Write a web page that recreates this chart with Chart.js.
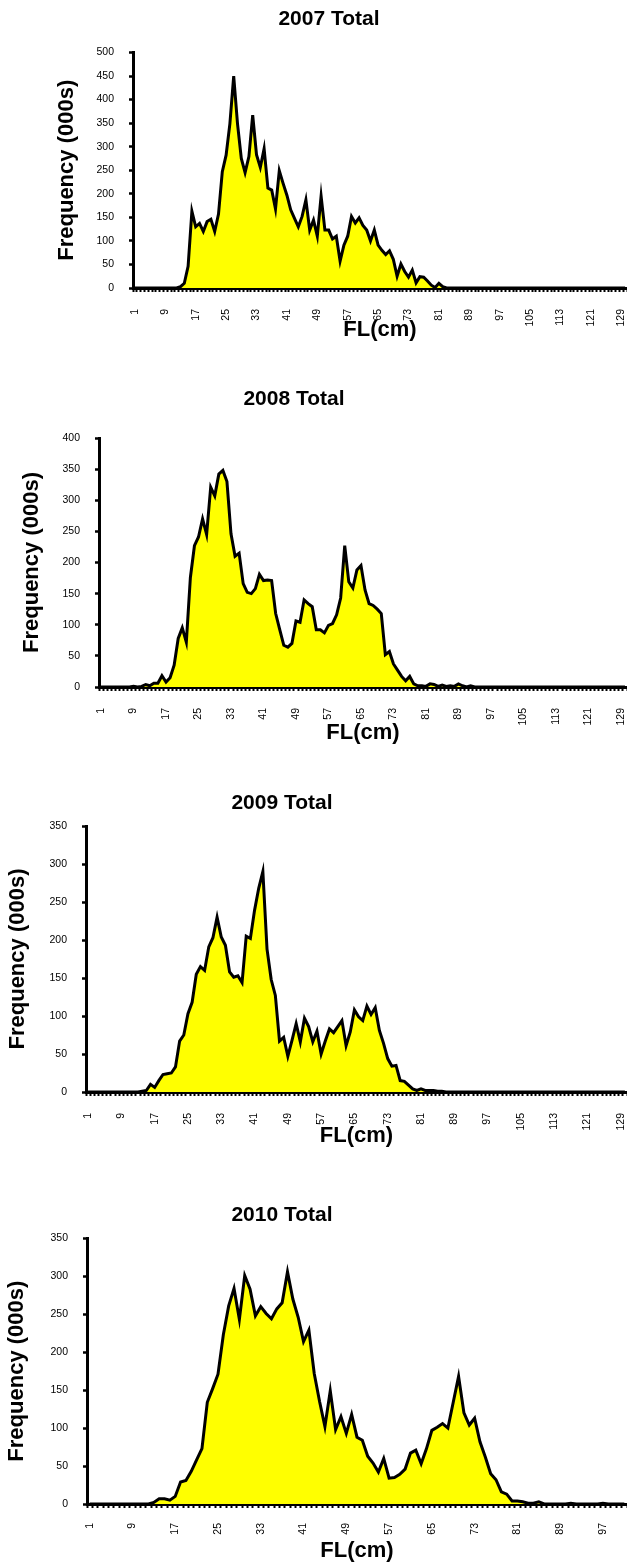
<!DOCTYPE html>
<html>
<head>
<meta charset="utf-8">
<script src="https://cdn.jsdelivr.net/npm/chart.js@4.4.1/dist/chart.umd.min.js"></script>
<style>
html,body{margin:0;padding:0;background:#fff;}
body{width:627px;height:1566px;position:relative;overflow:hidden;}
canvas{position:absolute;}
</style>
</head>
<body>
<canvas id="c2007"></canvas>
<canvas id="c2008"></canvas>
<canvas id="c2009"></canvas>
<canvas id="c2010"></canvas>
<script>
// ===== length classes (FL, cm) =====
var flLen=[1,2,3,4,5,6,7,8,9,10,11,12,13,14,15,16,17,18,19,20,21,22,23,24,25,26,27,28,29,30,
31,32,33,34,35,36,37,38,39,40,41,42,43,44,45,46,47,48,49,50,51,52,53,54,55,56,57,58,59,60,
61,62,63,64,65,66,67,68,69,70,71,72,73,74,75,76,77,78,79,80,81,82,83,84,85,86,87,88,89,90,
91,92,93,94,95,96,97,98,99,100,101,102,103,104,105,106,107,108,109,110,111,112,113,114,115,116,117,118,119,120,
121,122,123,124,125,126,127,128,129,130];
var flLen2010=[1,2,3,4,5,6,7,8,9,10,11,12,13,14,15,16,17,18,19,20,21,22,23,24,25,26,27,28,29,30,
31,32,33,34,35,36,37,38,39,40,41,42,43,44,45,46,47,48,49,50,51,52,53,54,55,56,57,58,59,60,
61,62,63,64,65,66,67,68,69,70,71,72,73,74,75,76,77,78,79,80,81,82,83,84,85,86,87,88,89,90,
91,92,93,94,95,96,97,98,99,100,101];
var shownTicks=[1,9,17,25,33,41,49,57,65,73,81,89,97,105,113,121,129];

// frequency (000s) per length class
var freq2007=[0,0,0,0,0,0,0,0,0,0, 0,0,3,10,46,163,130,137,120,141,
146,120,157,247,282,349,450,349,275,245, 279,367,283,256,296,212,208,168,249,222,
197,166,148,130,152,187,123,144,110,195, 123,123,104,110,57,91,110,152,138,149,
133,123,100,123,91,80,71,79,61,25, 51,35,23,38,11,24,23,15,6,1,
10,3,0,0,0,0,0,0,0,0, 0,0,0,0,0,0,0,0,0,0, 0,0,0,0,0,0,0,0,0,0,
0,0,0,0,0,0,0,0,0,0, 0,0,0,0,0,0,0,0,0,0];
var freq2008=[0,0,0,0,0,0,0,0,1,0, 1,4,2,6,6,18,8,15,35,78,
95,72,176,227,241,270,245,321,307,342, 348,330,246,210,215,166,152,150,158,181,
171,172,171,118,92,67,64,70,106,104, 140,134,129,92,92,87,99,102,116,143,
227,169,159,188,195,156,134,131,125,118, 52,57,37,27,17,10,17,5,2,2,
1,5,4,1,3,1,2,1,5,2, 0,2,0,0,0,0,0,0,0,0, 0,0,0,0,0,0,0,0,0,0,
0,0,0,0,0,0,0,0,0,0, 0,0,0,0,0,0,0,0,0,0];
var freq2009=[0,0,0,0,0,0,0,0,0,0, 0,0,0,1,2,10,6,15,23,24,
25,33,67,75,103,118,155,165,160,191, 203,230,204,193,158,151,153,144,205,202,
239,268,290,188,148,127,67,72,47,68, 90,66,97,86,66,80,50,67,83,78,
86,94,61,79,108,99,94,113,102,111, 81,64,44,34,35,15,14,9,4,2,
4,2,2,2,1,1,0,0,0,0, 0,0,0,0,0,0,0,0,0,0, 0,0,0,0,0,0,0,0,0,0,
0,0,0,0,0,0,0,0,0,0, 0,0,0,0,0,0,0,0,0,0];
var freq2010=[0,0,0,0,0,0,0,0,0,0, 0,0,2,7,7,5,10,29,31,43,
58,73,134,152,171,223,261,284,243,301, 283,248,260,251,244,257,265,306,270,246,
214,229,172,135,102,149,98,115,93,118, 88,84,63,54,42,60,34,35,39,46,
67,71,53,73,97,101,106,100,134,168, 120,104,113,82,62,40,32,16,13,4,
4,3,1,1,3,0,0,0,0,0, 1,0,0,0,0,0,1,0,0,0, 0];

var FONT='"Liberation Sans", Arial, Helvetica, sans-serif';

// canvas boxes and paddings (page px)
var boxes={
 c2007:{left:31,top:0,width:632,height:348,yW:102,xH:60,tTop:7,tBot:20.3,xPad:17,xtBot:4.8,ytTop:22.8},
 c2008:{left:-39,top:360,width:702,height:388,yW:138,xH:61,tTop:27,tBot:25.8,xPad:17,xtBot:1.8,ytTop:57.8},
 c2009:{left:-63,top:760,width:726,height:392,yW:149,xH:60,tTop:30.4,tBot:10.4,xPad:17,xtBot:2.8,ytTop:67.8},
 c2010:{left:-63,top:1170,width:726,height:396,yW:150,xH:62,tTop:32.4,tBot:10.7,xPad:15,xtBot:1.8,ytTop:66.8}
};

function makeChart(id,title,labels,values,yMax){
 var b=boxes[id], cv=document.getElementById(id);
 cv.width=b.width; cv.height=b.height;
 cv.style.left=b.left+'px'; cv.style.top=b.top+'px';
 return new Chart(cv,{
  type:'line',
  data:{labels:labels,datasets:[{data:values,borderColor:'#000',borderWidth:3,backgroundColor:'#ffff00',
   fill:'origin',pointRadius:0,tension:0,borderJoinStyle:'miter'}]},
  options:{
   responsive:false,animation:false,devicePixelRatio:1,
   layout:{padding:{left:0,top:0,right:36,bottom:0}},
   plugins:{legend:{display:false},tooltip:{enabled:false},
    title:{display:true,text:title,color:'#000',font:{family:FONT,size:21,weight:'bold'},padding:{top:b.tTop,bottom:b.tBot}}},
   scales:{
    x:{type:'category',offset:true,z:1,
     grid:{display:true,drawOnChartArea:false,drawTicks:true,tickLength:4,tickColor:'#000',tickWidth:2,offset:true},
     border:{display:true,color:'#000',width:3},
     ticks:{autoSkip:false,minRotation:90,maxRotation:90,padding:b.xPad,color:'#000',font:{family:FONT,size:10.5},
      callback:function(v){var l=this.getLabelForValue(v);return shownTicks.indexOf(l)>=0?String(l):'';}},
     title:{display:true,text:'FL(cm)',color:'#000',font:{family:FONT,size:22,weight:'bold'},padding:{top:0,bottom:b.xtBot}},
     afterFit:function(s){s.height=b.xH;}},
    y:{min:0,max:yMax,z:1,
     grid:{display:true,drawOnChartArea:false,drawTicks:true,tickLength:4,tickColor:'#000',tickWidth:2.5},
     border:{display:true,color:'#000',width:3},
     ticks:{stepSize:50,padding:15,color:'#000',font:{family:FONT,size:10.5}},
     title:{display:true,text:'Frequency (000s)',color:'#000',font:{family:FONT,size:22,weight:'bold'},padding:{top:b.ytTop,bottom:0}},
     afterFit:function(s){s.width=b.yW;}}
   }
  }
 });
}

makeChart('c2007','2007 Total',flLen,freq2007,500);
makeChart('c2008','2008 Total',flLen,freq2008,400);
makeChart('c2009','2009 Total',flLen,freq2009,350);
makeChart('c2010','2010 Total',flLen2010,freq2010,350);
</script>
</body>
</html>
